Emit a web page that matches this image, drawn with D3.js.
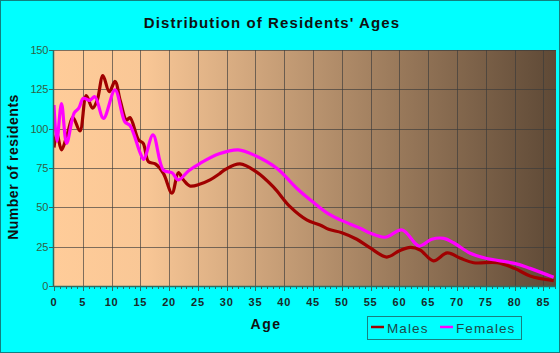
<!DOCTYPE html>
<html>
<head>
<meta charset="utf-8">
<script src="https://cdn.jsdelivr.net/npm/d3@7"></script>
<style>
  html, body { margin: 0; padding: 0; background: #00ffff; }
  svg { display: block; }
</style>
</head>
<body>
<div id="chart"></div>
<script>
// values: [age, residents]
const males = [
  [0, 88], [0.5, 97], [1.3, 86.5], [2.2, 95], [3.3, 107], [4.5, 98.5], [5.6, 121], [6.7, 113],
  [7.5, 118], [8.5, 133.7], [9.6, 123.5], [10.6, 130], [11.5, 118], [12.6, 105.5], [13.2, 107],
  [14.7, 92.8], [15.5, 90.7], [16.4, 79], [17.6, 77.6], [19, 71.6], [20.5, 59], [21.6, 72],
  [22.5, 67.4], [23.6, 63.6], [25.4, 64.8], [27.1, 67.4], [28.7, 71.2], [29.8, 74.2], [32.3, 77.6],
  [35.1, 72.7], [38.1, 63], [41, 50.4], [43.9, 42], [46.2, 38.8], [47.7, 36], [50, 33.9],
  [52.6, 29.7], [55, 24], [57.8, 18.4], [60, 22.4], [61.9, 24.5], [63.6, 22.9], [65.9, 16],
  [68.3, 21], [70.6, 17.6], [72.9, 14.8], [77, 14.8], [80, 11.2], [82.7, 6.4], [86.8, 3.4]
];
const females = [
  [0, 115], [0.5, 92], [1.3, 116], [2.2, 90.7], [3.5, 110], [4.3, 113], [5.1, 119.3], [6.2, 118],
  [7.1, 120.3], [8.6, 106.6], [10.6, 124.6], [12.3, 104.4], [13.2, 102], [15, 84.3], [15.6, 80.5],
  [17.2, 96], [19, 73.7], [20.5, 72], [21.6, 67.4], [23.4, 73.3], [25.4, 78], [28.7, 84],
  [32, 86.5], [35.1, 82.6], [38.7, 74.8], [42.2, 62], [45.1, 53], [47.7, 45.8], [49.7, 42],
  [53.2, 36.7], [55, 33.5], [57.5, 31], [60.5, 35.6], [63.4, 25.4], [65.6, 29.7], [67.7, 30.3],
  [69.4, 27.5], [72.3, 20.8], [75, 17.6], [80, 14.4], [82.7, 11.2], [86.8, 5.5]
];
const xTicks = d3.range(0, 86, 5);
const yTicks = [0, 25, 50, 75, 100, 125, 150];
const seriesNames = ["Males", "Females"];
const seriesColors = ["#a00000", "#ff00ff"];

const width = 560, height = 353;
const plot = { left: 54, right: 556, top: 50, bottom: 286 };

const svg = d3.select("#chart").append("svg")
  .attr("width", width).attr("height", height)
  .attr("font-family", "Liberation Sans, Arial, sans-serif");

svg.append("rect")
  .attr("x", 0.5).attr("y", 0.5).attr("width", width - 1).attr("height", height - 1)
  .attr("fill", "#00ffff").attr("stroke", "#118080");

const x = d3.scaleLinear().domain([0, 87.2]).range([plot.left, plot.right]);
const y = d3.scaleLinear().domain([0, 150]).range([plot.bottom, plot.top]);

// background gradient
const grad = svg.append("defs").append("linearGradient")
  .attr("id", "bg").attr("x1", "0%").attr("x2", "100%").attr("y1", "0%").attr("y2", "0%");
grad.append("stop").attr("offset", "0%").attr("stop-color", "#ffcc99");
grad.append("stop").attr("offset", "18%").attr("stop-color", "#f9c796");
grad.append("stop").attr("offset", "100%").attr("stop-color", "#5e4936");

svg.append("rect")
  .attr("x", plot.left).attr("y", plot.top)
  .attr("width", plot.right - plot.left).attr("height", plot.bottom - plot.top)
  .attr("fill", "url(#bg)");

// grid
const grid = svg.append("g").attr("stroke", "#3a3a3a").attr("stroke-opacity", 0.65).attr("stroke-width", 1);
xTicks.filter(d => d > 0).forEach(d => {
  grid.append("line")
    .attr("x1", Math.round(x(d)) + 0.5).attr("x2", Math.round(x(d)) + 0.5)
    .attr("y1", plot.top).attr("y2", plot.bottom);
});
yTicks.filter(d => d > 0).forEach(d => {
  grid.append("line")
    .attr("x1", plot.left).attr("x2", plot.right)
    .attr("y1", Math.round(y(d)) + 0.5).attr("y2", Math.round(y(d)) + 0.5);
});

// lines
const line = d3.line()
  .x(d => x(d[0]))
  .y(d => y(d[1]))
  .curve(d3.curveCatmullRom.alpha(0.5));

const clip = svg.append("clipPath").attr("id", "clip");
clip.append("rect")
  .attr("x", plot.left).attr("y", plot.top)
  .attr("width", plot.right - plot.left).attr("height", plot.bottom - plot.top);

[males, females].forEach((s, i) => {
  svg.append("path")
    .datum(s)
    .attr("clip-path", "url(#clip)")
    .attr("fill", "none")
    .attr("stroke", seriesColors[i])
    .attr("stroke-width", 3.2)
    .attr("stroke-linejoin", "round")
    .attr("d", line);
});

// y axis
const axisColor = "#2d6b60";
const yAxis = svg.append("g");
yAxis.append("line")
  .attr("x1", plot.left - 0.5).attr("x2", plot.left - 0.5)
  .attr("y1", plot.top).attr("y2", plot.bottom)
  .attr("stroke", axisColor).attr("stroke-width", 1.5);
yTicks.forEach(d => {
  yAxis.append("line")
    .attr("x1", plot.left - 5).attr("x2", plot.left)
    .attr("y1", Math.round(y(d)) + 0.5).attr("y2", Math.round(y(d)) + 0.5)
    .attr("stroke", axisColor);
  yAxis.append("text")
    .attr("x", plot.left - 6).attr("y", y(d) + 4)
    .attr("text-anchor", "end")
    .attr("font-size", 11)
    .attr("fill", "#2f5f45")
    .attr("letter-spacing", -0.3)
    .text(d);
});

// x axis
const xAxis = svg.append("g");
xAxis.append("line")
  .attr("x1", plot.left).attr("x2", plot.right)
  .attr("y1", plot.bottom + 0.5).attr("y2", plot.bottom + 0.5)
  .attr("stroke", axisColor).attr("stroke-width", 1.5);
d3.range(0, 88, 1).forEach(d => {
  xAxis.append("line")
    .attr("x1", Math.round(x(d)) + 0.5).attr("x2", Math.round(x(d)) + 0.5)
    .attr("y1", plot.bottom).attr("y2", plot.bottom + (d % 5 === 0 ? 5 : 3))
    .attr("stroke", axisColor);
});
xTicks.forEach(d => {
  xAxis.append("text")
    .attr("x", x(d)).attr("y", 306)
    .attr("text-anchor", "middle")
    .attr("font-size", 11)
    .attr("font-weight", "bold")
    .attr("letter-spacing", 0.8)
    .attr("fill", "#1a2a2a")
    .text(d);
});

// titles
svg.append("text")
  .attr("x", 272).attr("y", 28)
  .attr("text-anchor", "middle")
  .attr("font-size", 15).attr("font-weight", "bold")
  .attr("letter-spacing", 1.1)
  .attr("fill", "#111")
  .text("Distribution of Residents' Ages");

svg.append("text")
  .attr("x", 266).attr("y", 329)
  .attr("text-anchor", "middle")
  .attr("font-size", 14).attr("font-weight", "bold")
  .attr("letter-spacing", 1.5)
  .attr("fill", "#111")
  .text("Age");

svg.append("text")
  .attr("transform", "translate(18,167) rotate(-90)")
  .attr("text-anchor", "middle")
  .attr("font-size", 14).attr("font-weight", "bold")
  .attr("letter-spacing", 0.5)
  .attr("fill", "#111")
  .text("Number of residents");

// legend
const legend = svg.append("g");
legend.append("rect")
  .attr("x", 367.5).attr("y", 316.5).attr("width", 154).attr("height", 23)
  .attr("fill", "none").attr("stroke", "#178080");
const legendX = [371, 440];
seriesNames.forEach((name, i) => {
  legend.append("line")
    .attr("x1", legendX[i]).attr("x2", legendX[i] + 13)
    .attr("y1", 327).attr("y2", 327)
    .attr("stroke", seriesColors[i]).attr("stroke-width", 2.5);
  legend.append("text")
    .attr("x", legendX[i] + 16).attr("y", 333)
    .attr("font-size", 13.5)
    .attr("letter-spacing", 1.1)
    .attr("fill", "#1d4a48")
    .text(name);
});
</script>
</body>
</html>
